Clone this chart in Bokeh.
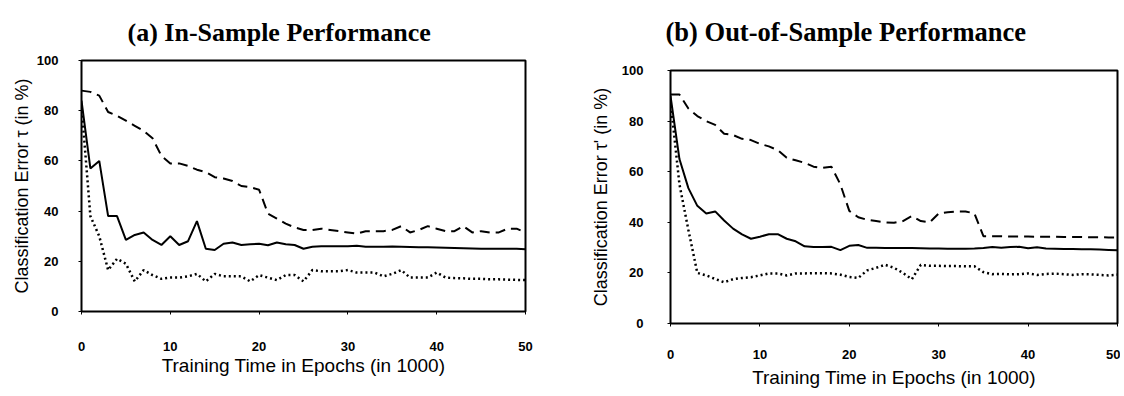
from bokeh.plotting import figure
from bokeh.layouts import row
from bokeh.models import Range1d, FixedTicker, Title
from bokeh.embed import file_html
from bokeh.resources import INLINE

epochs = list(range(0, 51))

in_dashed = [88, 87.5, 86, 79.5, 78, 76, 74, 72, 69, 62, 59, 59, 58, 56.5, 55.5, 53.5, 53, 52, 50,
             49.5, 48.5, 39, 37, 35, 33.5, 32.5, 32.5, 33, 32.5, 32, 31.5, 31, 32, 32, 32, 32.5, 34,
             31.5, 32.5, 34, 33, 32, 32, 34, 31.5, 32, 31.5, 31.5, 33, 33, 31.5]
in_solid = [84, 57, 60, 38, 38, 28.5, 30.5, 31.5, 28.5, 26.5, 30, 26.5, 28, 36, 25, 24.5, 27, 27.5,
            26.5, 26.8, 27, 26.4, 27.5, 26.8, 26.5, 25, 25.8, 26, 26, 26, 26, 26.2, 25.8, 25.8, 25.8,
            25.9, 25.8, 25.7, 25.6, 25.6, 25.5, 25.4, 25.3, 25.2, 25.1, 25, 25, 25, 25, 25, 24.8]
in_dotted = [82, 38, 30, 16.5, 21, 19, 12, 16.5, 14.5, 13, 13.5, 13.5, 14, 15, 12, 15, 14, 14, 14,
             12, 14.5, 13.5, 12.5, 14.5, 14.5, 12, 16.5, 16, 16, 16, 16.5, 15.5, 15.5, 15.5, 14, 15,
             16.5, 13.5, 13.5, 13.5, 15.5, 13.5, 13.3, 13.2, 13, 13, 12.8, 12.8, 12.7, 12.6, 12.5]

out_dashed = [90.5, 90.5, 85, 82, 80, 78.5, 75, 74.5, 73, 72.5, 71, 70, 68.5, 65.5, 64.5, 63.5, 62,
              61.5, 62, 55, 44.5, 42, 41, 40.5, 40, 39.8, 40.5, 42.5, 40.5, 40, 43.5, 44, 44.3,
              44.3, 43.5, 34.5, 34.5, 34.5, 34.4, 34.4, 34.4, 34.3, 34.3, 34.3, 34.2, 34.2, 34.2,
              34.1, 34.1, 34, 34]
out_solid = [90, 65, 53.5, 46.5, 43.5, 44.3, 40.7, 37.5, 35.2, 33.5, 34.3, 35.3, 35.3, 33.5, 32.5,
             30.5, 30.2, 30.2, 30.3, 29, 30.7, 31, 29.9, 29.9, 29.8, 29.8, 29.8, 29.8, 29.7, 29.6,
             29.6, 29.5, 29.5, 29.5, 29.6, 29.8, 30.2, 29.9, 30.2, 30.3, 29.7, 30.1, 29.6, 29.5,
             29.4, 29.4, 29.3, 29.3, 29.2, 29.1, 29]
out_dotted = [88, 55, 37, 20, 19, 17.6, 16.3, 17.5, 18, 18.3, 19, 19.8, 19.8, 19, 19.8, 19.8, 19.9,
              19.9, 19.8, 19.3, 18.4, 18, 21, 22, 23.2, 22, 20, 17.5, 23.2, 22.8, 22.8, 22.7, 22.7,
              22.6, 22.6, 20.3, 19.5, 19.6, 19.4, 19.5, 19.8, 19.2, 19.6, 19.7, 19.5, 19.2, 19.5,
              19.4, 19.2, 19, 19.3]

x_ticks = [0, 10, 20, 30, 40, 50]
y_ticks = [0, 20, 40, 60, 80, 100]

titles = ["(a) In-Sample Performance", "(b) Out-of-Sample Performance"]
y_labels = ["Classification Error \u03c4 (in %)", "Classification Error \u03c4' (in %)"]
x_label = "Training Time in Epochs (in 1000)"


def make(ylab, dashed, solid, dotted, width, height, bl, br, bt, bb,
         xstand, xlabstand, ystand, ylabstand):
    p = figure(width=width, height=height, output_backend="svg", toolbar_location=None,
               x_range=Range1d(0, 50), y_range=Range1d(0, 100),
               min_border_left=bl, min_border_right=br, min_border_top=bt, min_border_bottom=bb)
    try:
        p.frame_align = False
    except Exception:
        pass
    p.xgrid.visible = False
    p.ygrid.visible = False
    p.outline_line_color = "black"
    p.outline_line_width = 2
    p.outline_line_alpha = 1
    p.background_fill_color = "white"
    p.border_fill_color = "white"

    for ax in (p.xaxis[0], p.yaxis[0]):
        ax.axis_line_color = None
        ax.major_tick_in = 0
        ax.major_tick_out = 3
        ax.major_tick_line_color = "black"
        ax.minor_tick_line_color = None
        ax.major_label_text_font = "Liberation Sans"
        ax.major_label_text_font_style = "bold"
        ax.major_label_text_font_size = "13px"
        ax.major_label_text_color = "black"
        ax.axis_label_text_font = "Liberation Sans"
        ax.axis_label_text_font_style = "normal"
        ax.axis_label_text_color = "black"
    p.xaxis.axis_label_text_font_size = "19px"
    p.yaxis.axis_label_text_font_size = "18px"
    p.xaxis.ticker = FixedTicker(ticks=x_ticks)
    p.yaxis.ticker = FixedTicker(ticks=y_ticks)
    p.xaxis.axis_label = x_label
    p.yaxis.axis_label = ylab
    p.xaxis.major_label_standoff = xstand
    p.xaxis.axis_label_standoff = xlabstand
    p.yaxis.major_label_standoff = ystand
    p.yaxis.axis_label_standoff = ylabstand

    p.line(epochs, dashed, line_color="black", line_width=2, line_dash="10 6")
    p.line(epochs, solid, line_color="black", line_width=2)
    p.line(epochs, dotted, line_color="black", line_width=2.5, line_dash="2 3")
    return p


def style_title(t, offset, standoff, size="26px"):
    t.text_font = "Liberation Serif"
    t.text_font_style = "bold"
    t.text_font_size = size
    t.text_color = "black"
    t.align = "left"
    t.offset = offset
    t.standoff = standoff


p1 = make(y_labels[0], in_dashed, in_solid, in_dotted,
          564, 392, 81, 39, 60, 81, 27, 1, 20, 2)
p1.title.text = titles[0]
style_title(p1.title, 46, 28)

p2 = make(y_labels[1], out_dashed, out_solid, out_dotted,
          556, 392, 106, 3, 70, 69, 23, 5, 24, 8)
spacer = Title(text=" ", text_font_size="16px", standoff=0)
p2.add_layout(spacer, "above")
t2 = Title(text=titles[1])
style_title(t2, -5, 10, "26.5px")
p2.add_layout(t2, "above")

layout = row(p1, p2)
open("out.html", "w").write(file_html(layout, INLINE))
